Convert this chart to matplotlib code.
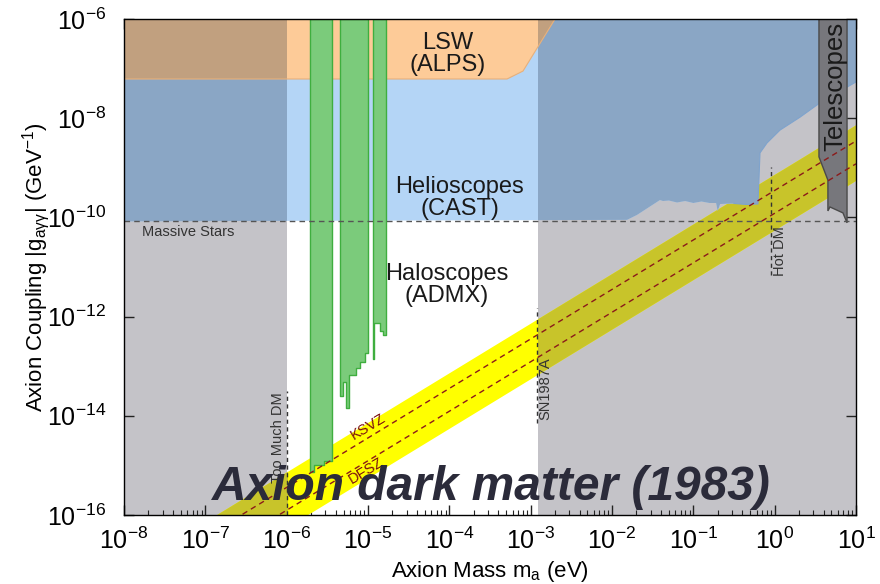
import numpy as np
import matplotlib
matplotlib.use('Agg')
import matplotlib.pyplot as plt
from matplotlib.patches import Rectangle
from matplotlib.ticker import LogLocator, NullLocator

plt.rcParams['font.family'] = ['Liberation Sans', 'DejaVu Sans']
plt.rcParams['mathtext.fontset'] = 'custom'
plt.rcParams['mathtext.rm'] = 'Liberation Sans'
plt.rcParams['mathtext.it'] = 'Liberation Sans:italic'
plt.rcParams['mathtext.bf'] = 'Liberation Sans:bold'

# all values are log10 (mass in eV, coupling in GeV^-1)
# excluded by astrophysics: too much DM (left) and SN1987A (right)
gray_lo = [-8.0, -2.91]
gray_hi = [-6.0, 1.0]

# helioscopes (CAST) lower boundary
heli_logm = [-8.0, -1.815, -1.692, -1.41, -1.373, -1.30, -1.20, -1.10, -1.0, -0.9, -0.8,
             -0.72, -0.70, -0.67, -0.5, -0.35, -0.205, -0.18, -0.094, 0.066, 0.312, 0.558, 1.0]
heli_logg = [-10.08, -10.05, -9.95, -9.65, -9.67, -9.66, -9.70, -9.67, -9.71, -9.68, -9.71,
             -9.71, -9.87, -9.73, -9.72, -9.74, -9.73, -8.70, -8.50, -8.24, -7.98, -7.69, -7.27]

# light shining through wall (ALPS) lower boundary
lsw_logm = [-8.0, -3.29, -3.094, -2.70]
lsw_logg = [-7.21, -7.21, -7.05, -6.0]

# ADMX haloscope bars (bin edges, bottom limits)
admx_edges = [[-5.713, -5.664, -5.541, -5.443],
              [-5.344, -5.304, -5.271, -5.230, -5.148, -5.099, -5.037, -4.996],
              [-4.942, -4.923, -4.852, -4.812, -4.779]]
admx_bottom = [[-15.13, -15.0, -14.92],
               [-13.61, -13.31, -13.85, -13.18, -13.04, -12.91, -12.73],
               [-12.86, -12.13, -12.30, -12.37]]

# telescopes
tel_logm = [0.545, 0.545, 0.655, 0.655, 0.68, 0.84, 0.89, 0.89]
tel_logg = [-6.0, -8.78, -9.25, -9.87, -9.79, -9.91, -10.11, -6.0]

# QCD axion band and model lines
band_logm = [-8.0, 1.0]
band_upper = [-17.13, -8.13]
band_lower = [-18.25, -9.25]
ksvz_logg = [-17.44, -8.46]
dfsz_logg = [-17.90, -8.92]

massive_stars = -10.08
too_much_dm = (-6.0, -16.0, -13.5)
sn1987a = (-2.922, -14.15, -11.83)
hot_dm = (-0.045, -11.16, -8.98)

xticks = [1e-8, 1e-7, 1e-6, 1e-5, 1e-4, 1e-3, 1e-2, 1e-1, 1e0, 1e1]
yticks = [1e-16, 1e-14, 1e-12, 1e-10, 1e-8, 1e-6]

GRAY = '#c4c3c8'
BLUE, BLUE_G = '#b4d5f6', '#8aa6c5'
ORANGE, ORANGE_G = '#fdcb98', '#c1a07f'
YELLOW, YELLOW_G = '#ffff00', '#c8c42a'
GREEN, GREEN_E = '#7bcb7b', '#3fae3f'

p = lambda v: 10 ** np.asarray(v, dtype=float)

fig = plt.figure(figsize=(8.8, 5.84), dpi=100)
ax = fig.add_axes([0.1409, 0.1182, 0.8318, 0.8493])
ax.set_xscale('log')
ax.set_yscale('log')
ax.set_xlim(1e-8, 1e1)
ax.set_ylim(1e-16, 1e-6)

for lo, hi in zip(gray_lo, gray_hi):
    ax.axvspan(10 ** lo, 10 ** hi, color=GRAY, lw=0, zorder=1)


def draw_overlap(artist_fn):
    # redraw a region in its "seen through gray" colour, clipped to the gray spans
    for lo, hi in zip(gray_lo, gray_hi):
        art = artist_fn()
        clip = Rectangle((10 ** lo, 1e-16), 10 ** hi - 10 ** lo, 1e-6 - 1e-16,
                         transform=ax.transData)
        art.set_clip_path(clip)


# yellow band
ax.fill_between(p(band_logm), p(band_lower), p(band_upper), color=YELLOW, lw=0, zorder=2)
draw_overlap(lambda: ax.fill_between(p(band_logm), p(band_lower), p(band_upper),
                                     color=YELLOW_G, lw=0, zorder=2.1))

# helioscopes
hx = list(p(heli_logm)) + [1e1, 1e-8]
hy = list(p(heli_logg)) + [1e-6, 1e-6]
ax.fill(hx, hy, color=BLUE, lw=0, zorder=3)
ax.plot(p(heli_logm[14:]), p(heli_logg[14:]), color='#7fa3cc', lw=0.8, zorder=3.2)
draw_overlap(lambda: ax.fill(hx, hy, color=BLUE_G, lw=0, zorder=3.1)[0])

# LSW
lx = list(p(lsw_logm)) + [1e-8]
ly = list(p(lsw_logg)) + [1e-6]
ax.fill(lx, ly, color=ORANGE, lw=0, zorder=4)
draw_overlap(lambda: ax.fill(lx, ly, color=ORANGE_G, lw=0, zorder=4.1)[0])
ax.plot(p(lsw_logm), p(lsw_logg), color='#e8b07a', lw=0.8, zorder=4.2)

# ADMX
for edges, bottom in zip(admx_edges, admx_bottom):
    ax.fill_between(p(edges), p(bottom + [bottom[-1]]), 1e-6, step='post',
                    facecolor=GREEN, edgecolor=GREEN_E, lw=1.0, zorder=5)

# telescopes
ax.fill(p(tel_logm), p(tel_logg), facecolor='#77777c', edgecolor='#4a4a4a', lw=1, zorder=6)

# model lines
ax.plot(p(band_logm), p(ksvz_logg), color='#8b1a1a', ls=(0, (4, 3)), lw=1, zorder=6)
ax.plot(p(band_logm), p(dfsz_logg), color='#8b1a1a', ls=(0, (4, 3)), lw=1, zorder=6)

# limits
ax.axhline(10 ** massive_stars, color='#555555', ls=(0, (4, 3)), lw=1, zorder=6)
for xm, g0, g1 in [too_much_dm, sn1987a, hot_dm]:
    ax.plot([10 ** xm, 10 ** xm], [10 ** g0, 10 ** g1], color='#333333',
            ls=(0, (3, 2.5)), lw=1, zorder=6)

tc = '#1a1a1a'
ax.text(10 ** -4.016, 10 ** -6.71, 'LSW\n(ALPS)', ha='center', va='center',
        fontsize=17, color=tc, linespacing=1.0, zorder=7)
ax.text(10 ** -3.869, 10 ** -9.61, 'Helioscopes\n(CAST)', ha='center', va='center',
        fontsize=17, color=tc, linespacing=1.0, zorder=7)
ax.text(10 ** -4.028, 10 ** -11.36, 'Haloscopes\n(ADMX)', ha='center', va='center',
        fontsize=17, color=tc, linespacing=1.0, zorder=7)
ax.text(10 ** 0.742, 10 ** -7.37, 'Telescopes', rotation=90, ha='center', va='center',
        fontsize=18.5, color=tc, zorder=7)
ax.text(10 ** -7.78, 10 ** -10.29, 'Massive Stars', ha='left', va='center',
        fontsize=10.5, color='#333333', zorder=7)
ax.text(10 ** -6.02, 10 ** -14.45, 'Too Much DM', rotation=90, ha='right', va='center',
        fontsize=10.5, color='#333333', zorder=7)
ax.text(10 ** -2.90, 10 ** -13.46, 'SN1987A', rotation=90, ha='left', va='center',
        fontsize=10.5, color='#333333', zorder=7)
ax.text(10 ** -0.015, 10 ** -10.68, 'Hot DM', rotation=90, ha='left', va='center',
        fontsize=10.5, color='#333333', zorder=7)
ax.text(10 ** -5.0, 10 ** -14.22, 'KSVZ', rotation=31, ha='center', va='center',
        fontsize=10.5, color='#7b1010', zorder=7)
ax.text(10 ** -5.02, 10 ** -15.1, 'DFSZ', rotation=31, ha='center', va='center',
        fontsize=10.5, color='#7b1010', zorder=7)
ax.text(10 ** -6.918, 10 ** -15.70, 'Axion dark matter (1983)', ha='left', va='baseline',
        fontsize=34.5, fontweight='bold', fontstyle='italic', color='#2b2b3a', zorder=8)

ax.set_xticks(xticks)
ax.xaxis.set_minor_locator(LogLocator(base=10, subs=np.arange(2, 10), numticks=20))
ax.set_yticks(yticks)
ax.yaxis.set_minor_locator(NullLocator())
ax.tick_params(which='both', direction='in', top=True, right=True, labelsize=18,
               color='#222222')
ax.tick_params(which='major', length=7, width=1)
ax.tick_params(which='minor', length=3.5, width=0.8)
ax.tick_params(axis='x', pad=9)
ax.tick_params(axis='y', pad=13)
for s in ax.spines.values():
    s.set_linewidth(1.0)
    s.set_zorder(9)

ax.set_xlabel(r'Axion Mass m$_{\mathrm{a}}$ (eV)', fontsize=16, labelpad=4)
ax.set_ylabel(r'Axion Coupling |g$_{\mathrm{a\gamma\gamma}}$| (GeV$^{-1}$)', fontsize=16)
ax.yaxis.set_label_coords(-0.098, 0.5)

fig.savefig('out.png', dpi=100)
